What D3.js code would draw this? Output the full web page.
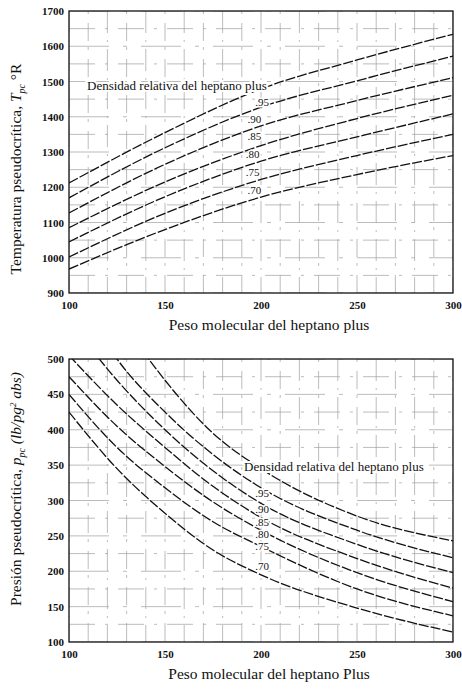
<!DOCTYPE html>
<html>
<head>
<meta charset="utf-8">
<script src="https://cdn.jsdelivr.net/npm/d3@7/dist/d3.min.js"></script>
<style>
  html, body { margin: 0; padding: 0; background: #fff; }
  svg { display: block; }
  text { font-family: "Liberation Serif", "Times New Roman", serif; fill: #111; }
</style>
</head>
<body>
<div id="chart"></div>
<script>
// ---------- data ----------
const massTicks = [100, 150, 200, 250, 300];
const tempTicks = [900, 1000, 1100, 1200, 1300, 1400, 1500, 1600, 1700];
const presTicks = [100, 150, 200, 250, 300, 350, 400, 450, 500];
const densLabels = [".95", ".90", ".85", ".80", ".75", ".70"];

// Top chart: pseudocritical temperature (°R) vs molecular weight
const tpcMw = [100, 150, 200, 250, 300];
const tpcCurve1 = [1212, 1355, 1479, 1561, 1634];
const tpcCurve2 = [1170, 1312, 1427, 1502, 1572];
const tpcCurve3 = [1127, 1265, 1374, 1446, 1511];
const tpcCurve4 = [1085, 1215, 1318, 1395, 1461];
const tpcCurve5 = [1045, 1173, 1274, 1343, 1408];
const tpcCurve6 = [1002, 1126, 1222, 1290, 1350];
const tpcCurve7 = [968, 1080, 1172, 1236, 1290];
const tpcLabelMw = [197, 193, 193, 192, 192, 193];
const tpcLabelT = [1441, 1393, 1344, 1293, 1242, 1193];

// Bottom chart: pseudocritical pressure (psia) vs molecular weight
const ppcMw = [100, 125, 150, 175, 200, 250, 300];
const ppcCurve1 = [685, 565, 470, 395, 345, 278, 243];
const ppcCurve2 = [610, 500, 425, 365, 318, 258, 219];
const ppcCurve3 = [555, 470, 400, 342, 296, 238, 198];
const ppcCurve4 = [505, 435, 375, 320, 276, 218, 176];
const ppcCurve5 = [475, 405, 348, 298, 258, 198, 157];
const ppcCurve6 = [450, 375, 318, 270, 235, 175, 137];
const ppcCurve7 = [425, 345, 282, 230, 195, 148, 114];
const ppcLabelMw = [197, 197, 197, 197, 197, 197];
const ppcLabelP = [310, 288, 270, 253, 236, 207];

const tpcCurves = [tpcCurve1, tpcCurve2, tpcCurve3, tpcCurve4, tpcCurve5, tpcCurve6, tpcCurve7];
const ppcCurves = [ppcCurve1, ppcCurve2, ppcCurve3, ppcCurve4, ppcCurve5, ppcCurve6, ppcCurve7];

// ---------- drawing ----------
const W = 462, H = 689;
const svg = d3.select("#chart").append("svg").attr("width", W).attr("height", H);

const x = d3.scaleLinear().domain([100, 300]).range([69, 453]);
const yT = d3.scaleLinear().domain([900, 1700]).range([293, 11]);
const yP = d3.scaleLinear().domain([100, 500]).range([642, 359]);

function panel(id, yScale, yTicks, yGridStep, curves, mw, labM, labV, xTitle, yTitleParts, yTitleY, densPos) {
  const g = svg.append("g");
  const [x0, x1] = x.range();
  const [yb, yt] = yScale.range();

  svg.append("clipPath").attr("id", "clip" + id)
    .append("rect").attr("x", x0).attr("y", yt).attr("width", x1 - x0).attr("height", yb - yt);

  // faded grid (scan-like broken lines)
  const grid = g.append("g").attr("clip-path", `url(#clip${id})`)
    .attr("stroke", "#444").attr("stroke-width", 0.7).attr("opacity", 0.5);
  grid.selectAll("line.v").data(x.ticks(20)).join("line")
    .attr("x1", d => x(d)).attr("x2", d => x(d)).attr("y1", yt).attr("y2", yb)
    .attr("stroke-dasharray", (d, i) => i % 2 ? "3,9,18,6" : "22,7,2,7");
  const [dLo, dHi] = yScale.domain();
  grid.selectAll("line.h").data(d3.range(dLo, dHi + 1, yGridStep)).join("line")
    .attr("y1", d => yScale(d)).attr("y2", d => yScale(d)).attr("x1", x0).attr("x2", x1)
    .attr("stroke-dasharray", (d, i) => i % 2 ? "26,10,3,10" : "40,14,4,14");

  // curves
  const line = d3.line().x(d => x(d[0])).y(d => yScale(d[1])).curve(d3.curveMonotoneX);
  g.append("g").attr("clip-path", `url(#clip${id})`)
    .selectAll("path").data(curves).join("path")
    .attr("d", c => line(mw.map((m, i) => [m, c[i]])))
    .attr("fill", "none").attr("stroke", "#111").attr("stroke-width", 1.3)
    .attr("stroke-dasharray", "10,2");

  // frame
  g.append("rect").attr("x", x0).attr("y", yt).attr("width", x1 - x0).attr("height", yb - yt)
    .attr("fill", "none").attr("stroke", "#111").attr("stroke-width", 1.3);

  // axes
  const ay = g.append("g").attr("transform", `translate(${x0},0)`)
    .call(d3.axisLeft(yScale).tickValues(yTicks).tickSize(0).tickPadding(5).tickFormat(d3.format("d")));
  ay.select(".domain").remove();
  ay.selectAll("text").style("font-family", "Liberation Serif").style("font-size", "11px")
    .style("font-weight", "bold").attr("fill", "#111");
  const ax = g.append("g").attr("transform", `translate(0,${yb})`)
    .call(d3.axisBottom(x).tickValues(massTicks).tickSize(0).tickPadding(8).tickFormat(d3.format("d")));
  ax.select(".domain").remove();
  ax.selectAll("text").style("font-family", "Liberation Serif").style("font-size", "11px")
    .style("font-weight", "bold").attr("fill", "#111");

  // density labels
  g.append("text").attr("x", densPos[0]).attr("y", densPos[1])
    .attr("font-size", 13).attr("stroke", "#fff").attr("stroke-width", 4)
    .attr("paint-order", "stroke").text("Densidad relativa del heptano plus");

  g.selectAll("text.lab").data(densLabels).join("text").attr("class", "lab")
    .attr("x", (d, i) => x(labM[i])).attr("y", (d, i) => yScale(labV[i]))
    .attr("dy", "0.35em").attr("font-size", 11)
    .attr("stroke", "#fff").attr("stroke-width", 3).attr("paint-order", "stroke")
    .text(d => d);

  // x title
  g.append("text").attr("x", 269).attr("y", yb + 37).attr("text-anchor", "middle")
    .attr("font-size", 15.5).text(xTitle);

  // y title
  const yt2 = g.append("text").attr("transform", `translate(21,${yTitleY}) rotate(-90)`)
    .attr("text-anchor", "middle").attr("font-size", 15.5);
  yTitleParts.forEach(p => {
    const t = yt2.append("tspan").text(p.t);
    if (p.it) t.attr("font-style", "italic");
    if (p.fs) t.attr("font-size", p.fs);
    if (p.dy) t.attr("dy", p.dy);
  });
}

panel("T", yT, tempTicks, 50, tpcCurves, tpcMw, tpcLabelMw, tpcLabelT,
  "Peso molecular del heptano plus",
  [{t: "Temperatura pseudocrítica, "}, {t: "T", it: true}, {t: "pc", it: true, fs: 10, dy: 4},
   {t: " °R", dy: -4}],
  169, [87, 90]);

panel("P", yP, presTicks, 25, ppcCurves, ppcMw, ppcLabelMw, ppcLabelP,
  "Peso molecular del heptano Plus",
  [{t: "Presión pseudocrítica, "}, {t: "p", it: true}, {t: "pc", it: true, fs: 10, dy: 4},
   {t: " (lb/pg", it: true, dy: -4}, {t: "2", it: true, fs: 9, dy: -5}, {t: " abs)", it: true, dy: 5}],
  489, [244, 471]);
</script>
</body>
</html>
